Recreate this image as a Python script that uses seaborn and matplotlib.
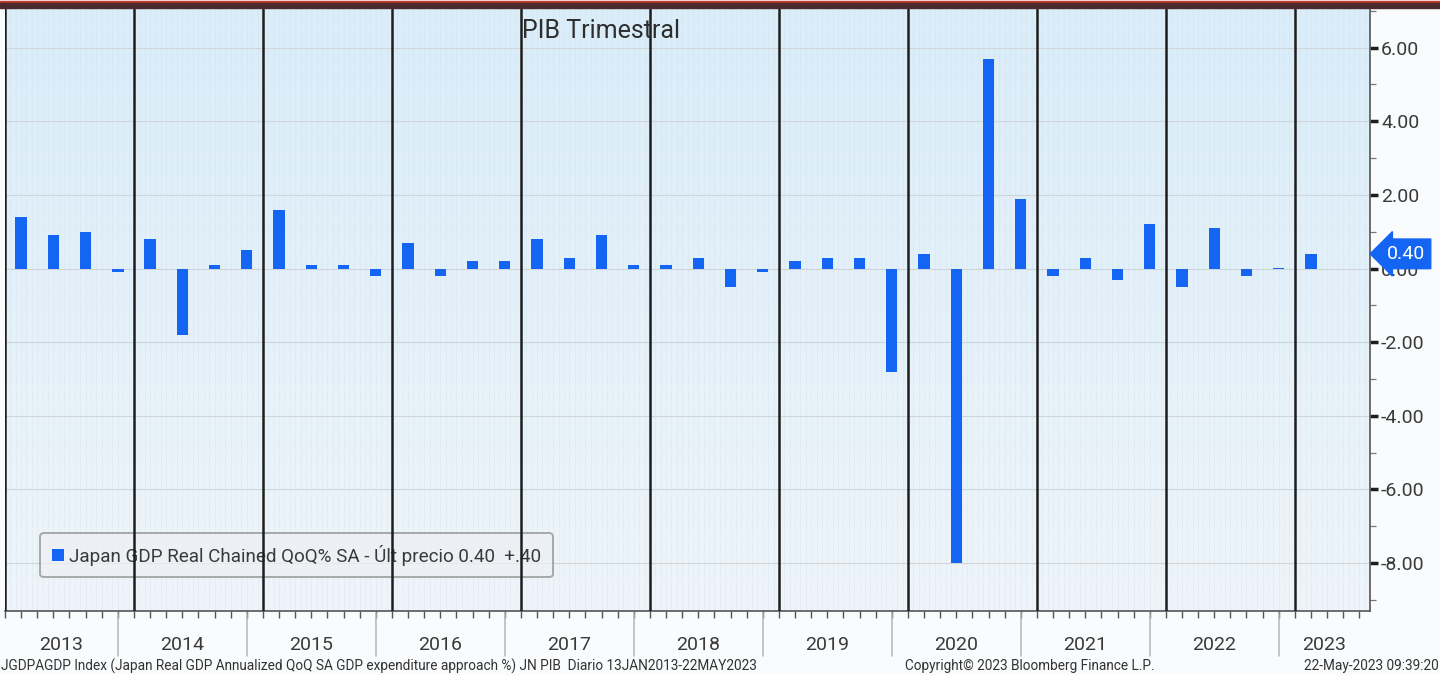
import numpy as np
import matplotlib.pyplot as plt
import seaborn as sns
import pandas as pd
from matplotlib.patches import Rectangle

sns.set_theme(style='white')
plt.rcParams['font.family'] = ['Roboto', 'DejaVu Sans']

# ---------------------------------------------------------------
# data (Japan GDP QoQ %, 2013Q1-2023Q1)
years = [2013, 2014, 2015, 2016, 2017, 2018, 2019, 2020, 2021, 2022, 2023]
quarters = [f'{y}Q{q}' for y in years for q in (1, 2, 3, 4)][:41]
gdp_qoq = [1.4, 0.9, 1.0, -0.1,
           0.8, -1.8, 0.1, 0.5,
           1.6, 0.1, 0.1, -0.2,
           0.7, -0.2, 0.2, 0.2,
           0.8, 0.3, 0.9, 0.1,
           0.1, 0.3, -0.5, -0.1,
           0.2, 0.3, 0.3, -2.8,
           0.4, -8.0, 5.7, 1.9,
           -0.2, 0.3, -0.3, 1.2,
           -0.5, 1.1, -0.2, 0.02,
           0.4]
ytick_vals = [-8, -6, -4, -2, 0, 2, 4, 6]
last_price = 0.40

df = pd.DataFrame({'quarter': quarters, 'gdp': gdp_qoq})

bar_blue = '#1565f5'
txt = '#3a3a3a'

fig = plt.figure(figsize=(14.4, 6.75), dpi=100)
fig.patch.set_facecolor('#f9fbfc')
ax = fig.add_axes([5 / 1440, 1 - 611 / 675, 1365 / 1440, 602 / 675])

# gradient background like the terminal
grad = np.linspace(0, 1, 256).reshape(-1, 1)
cmap = sns.blend_palette(['#daedf9', '#eff5fa'], as_cmap=True)
ax.imshow(grad, extent=[0, 1, 0, 1], transform=ax.transAxes, aspect='auto',
          cmap=cmap, zorder=0)

sns.barplot(data=df, x='quarter', y='gdp', color=bar_blue, width=0.35,
            saturation=1, ax=ax, zorder=4, linewidth=0,
            label='Japan GDP Real Chained QoQ% SA - Últ precio 0.40  +.40')

ax.set_xlim(-0.5, 41.83)
ax.set_ylim(-9.3, 7.05)

# faint vertical stripes
for xs in np.arange(-0.5, 41.83, 1 / 6):
    ax.axvline(xs, color='#c3d3e0', lw=0.6, alpha=0.6, ls=':', zorder=1)
for yv in ytick_vals:
    ax.axhline(yv, color='#d0d5da', lw=0.8, zorder=1)

# year boundaries
for k in range(len(years)):
    ax.axvline(-0.5 + 4 * k, color='#1e1e1e', lw=1.8, zorder=5)

# y axis on the right
ax.yaxis.tick_right()
ax.set_yticks(ytick_vals)
ax.set_yticklabels([f'{v:.2f}' for v in ytick_vals], fontsize=14, color=txt)
ax.set_yticks([-9, -7, -5, -3, -1, 1, 3, 5, 7], minor=True)
ax.tick_params(axis='y', which='major', length=6, width=2.5, color='#1e1e1e',
               direction='out', pad=2, right=True, left=False)
ax.tick_params(axis='y', which='minor', length=4, width=0.9, color='#777777',
               direction='out', right=True, left=False)

# x axis: small ticks, year labels drawn by hand
ax.set_xticks(np.arange(-0.5, 41.8, 0.5))
ax.set_xticklabels([])
ax.tick_params(axis='x', length=5, width=1, color='#555555', direction='out', bottom=True)
ax.set_xlabel('')
ax.set_ylabel('')

for s in ['top', 'left']:
    ax.spines[s].set_visible(False)
for s in ['right', 'bottom']:
    ax.spines[s].set_color('#555555')
    ax.spines[s].set_linewidth(1.2)

trans = ax.get_xaxis_transform()
seps = [3 + 4 * k for k in range(len(years) - 1)]
for sx in seps:
    ax.plot([sx, sx], [-0.003, -0.075], color='#b5b5b5', lw=1.1,
            transform=trans, clip_on=False)
bounds = [ax.get_xlim()[0]] + seps + [ax.get_xlim()[1]]
for y, a, b in zip(years, bounds[:-1], bounds[1:]):
    ax.text((a + b) / 2, -0.057, str(y), transform=trans, ha='center', va='center',
            fontsize=14, color=txt)

# title
ax.text(0.4366, 0.963, 'PIB Trimestral', transform=ax.transAxes, ha='center',
        va='center', fontsize=18, color='#2e2e2e', zorder=6)

# legend
leg = ax.legend(loc='lower left', bbox_to_anchor=(0.026, 0.056), borderaxespad=0,
                fontsize=13.6, handlelength=0.6, handleheight=0.6, handletextpad=0.3,
                frameon=True, fancybox=True, borderpad=0.62)
leg.get_frame().set_facecolor('#eef1f4')
leg.get_frame().set_alpha(0.7)
leg.get_frame().set_edgecolor('#8a8a8a')
leg.get_frame().set_linewidth(1.4)
for t in leg.get_texts():
    t.set_color(txt)
leg.set_zorder(3)

# last price tag
ax.annotate(f'{last_price:.2f}', xy=(1.0, last_price),
            xycoords=('axes fraction', 'data'), xytext=(12, 0),
            textcoords='offset points', ha='left', va='center', fontsize=14,
            color='white', zorder=7, annotation_clip=False,
            bbox=dict(boxstyle='larrow,pad=0.3', fc=bar_blue, ec=bar_blue))

# top bar of the terminal window
fig.patches.append(Rectangle((0, 1 - 3 / 675), 1, 1.5 / 675, transform=fig.transFigure,
                             color='#c0392b', zorder=10))
fig.patches.append(Rectangle((0, 1 - 8 / 675), 1, 5 / 675, transform=fig.transFigure,
                             color='#4a2a2c', zorder=10))

# footer
fig.text(0.001, 1 - 666 / 675, 'JGDPAGDP Index (Japan Real GDP Annualized QoQ SA GDP expenditure '
         'approach %) JN PIB  Diario 13JAN2013-22MAY2023', ha='left', va='center',
         fontsize=9.8, color='#333333')
fig.text(905 / 1440, 1 - 666 / 675, 'Copyright© 2023 Bloomberg Finance L.P.', ha='left',
         va='center', fontsize=9.8, color='#333333')
fig.text(0.999, 1 - 666 / 675, '22-May-2023 09:39:20', ha='right', va='center',
         fontsize=9.8, color='#333333')

fig.savefig('out.png', dpi=100, facecolor=fig.get_facecolor())
